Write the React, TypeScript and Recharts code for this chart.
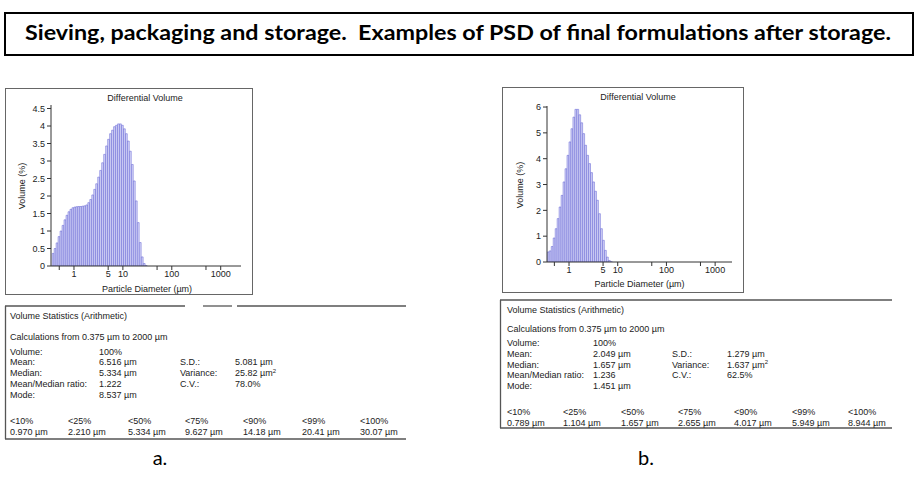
import React from 'react';
import { ComposedChart, Bar, XAxis, YAxis } from 'recharts';

// LS channel diameters (µm), lower edge of each channel
const channelSizes = [
  0.375, 0.412, 0.452, 0.496, 0.545, 0.598, 0.656, 0.721, 0.791, 0.868,
  0.953, 1.047, 1.149, 1.261, 1.385, 1.52, 1.669, 1.832, 2.011, 2.208,
  2.424, 2.661, 2.921, 3.207, 3.521, 3.865, 4.243, 4.658, 5.114, 5.614,
  6.163, 6.766, 7.428, 8.155, 8.953, 9.829, 10.79, 11.85, 13.01, 14.28,
  15.68, 17.21, 18.89, 20.74, 22.77, 25.0, 27.44, 30.13,
];

// differential volume (%)
const volumeA = [
  0.36, 0.5, 0.66, 0.84, 1.0, 1.16, 1.32, 1.45, 1.55, 1.62,
  1.665, 1.685, 1.695, 1.7, 1.7, 1.71, 1.72, 1.745, 1.81, 1.9,
  2.03, 2.19, 2.35, 2.54, 2.73, 2.95, 3.19, 3.43, 3.62, 3.78,
  3.88, 3.98, 4.02, 4.06, 4.06, 4.02, 3.92, 3.78, 3.57, 3.28,
  2.9, 2.43, 1.86, 1.24, 0.67, 0.26, 0.07, 0.01,
];
const volumeB = [
  0.39, 0.43, 0.6, 0.93, 1.29, 1.68, 2.13, 2.58, 3.1, 3.61,
  4.13, 4.65, 5.16, 5.61, 5.91, 5.91, 5.7, 5.39, 4.97, 4.52,
  4.13, 3.81, 3.46, 3.1, 2.74, 2.39, 1.87, 1.29, 0.84, 0.45,
  0.19, 0.06, 0.01,
];

const yTicksA = [0, 0.5, 1, 1.5, 2, 2.5, 3, 3.5, 4, 4.5];
const yTicksB = [0, 1, 2, 3, 4, 5, 6];
const xTicks = [0.5, 1, 5, 10, 50, 100, 500, 1000];
const xTickLabels = [1, 5, 10, 100, 1000];

const statLabels = ['Volume:', 'Mean:', 'Median:', 'Mean/Median ratio:', 'Mode:'];
const statValuesA = ['100%', '6.516 µm', '5.334 µm', '1.222', '8.537 µm'];
const statValuesB = ['100%', '2.049 µm', '1.657 µm', '1.236', '1.451 µm'];
const spreadLabels = ['S.D.:', 'Variance:', 'C.V.:'];
const spreadValuesA = ['5.081 µm', '25.82 µm', '78.0%'];
const spreadValuesB = ['1.279 µm', '1.637 µm', '62.5%'];
const percentileLabels = ['<10%', '<25%', '<50%', '<75%', '<90%', '<99%', '<100%'];
const percentilesA = ['0.970 µm', '2.210 µm', '5.334 µm', '9.627 µm', '14.18 µm', '20.41 µm', '30.07 µm'];
const percentilesB = ['0.789 µm', '1.104 µm', '1.657 µm', '2.655 µm', '4.017 µm', '5.949 µm', '8.944 µm'];

const FONT = '"Liberation Sans", Arial, sans-serif';
const CAL = 'Lato, "Open Sans", sans-serif';
const AXIS = '#333';

function Histogram(props: {
  left: number; top: number; width: number; height: number;
  marginTop: number; marginRight: number; yWidth: number; xHeight: number;
  values: number[]; yMax: number; yTicks: number[]; xDomain: [number, number];
}) {
  const data = props.values.map((v, i) => ({ d: channelSizes[i], v }));
  const tick = { fontSize: 9, fill: '#222', fontFamily: FONT };
  return (
    <div style={{ position: 'absolute', left: props.left, top: props.top }}>
      <ComposedChart
        width={props.width}
        height={props.height}
        data={data}
        margin={{ top: props.marginTop, right: props.marginRight, left: 0, bottom: 0 }}
      >
        <XAxis
          xAxisId="main"
          dataKey="d"
          type="number"
          scale="log"
          domain={props.xDomain}
          allowDataOverflow
          ticks={xTicks}
          interval={0}
          tickSize={4}
          tickMargin={1}
          height={props.xHeight}
          tick={tick}
          tickFormatter={(v: number) => (xTickLabels.includes(v) ? String(v) : '')}
          axisLine={{ stroke: AXIS }}
          tickLine={{ stroke: AXIS }}
        />
        <XAxis
          xAxisId="top"
          dataKey="d"
          type="number"
          scale="log"
          domain={props.xDomain}
          allowDataOverflow
          orientation="top"
          height={0}
          tick={false}
          tickLine={false}
          axisLine={{ stroke: '#666' }}
        />
        <YAxis
          yAxisId="main"
          type="number"
          domain={[0, props.yMax]}
          allowDataOverflow
          ticks={props.yTicks}
          interval={0}
          tickSize={4}
          width={props.yWidth}
          tick={tick}
          axisLine={{ stroke: AXIS }}
          tickLine={{ stroke: AXIS }}
        />
        <YAxis
          yAxisId="right"
          orientation="right"
          type="number"
          domain={[0, props.yMax]}
          width={0}
          tick={false}
          tickLine={false}
          axisLine={{ stroke: '#666' }}
        />
        <Bar
          xAxisId="main"
          yAxisId="main"
          dataKey="v"
          barSize={2}
          fill="#d6d6f7"
          stroke="#5c5cd2"
          strokeWidth={0.5}
          isAnimationActive={false}
        />
      </ComposedChart>
    </div>
  );
}

function StatsText(props: {
  x: number[]; px: number[]; rows: number[]; values: string[];
  spread: string[]; pct: string[];
}) {
  const t = { fontSize: 9, fill: '#222', fontFamily: FONT };
  const [titleY, calcY, firstY, step, pctY, pctValY] = props.rows;
  return (
    <g>
      <text x={props.x[0]} y={titleY + 3} {...t}>Volume Statistics (Arithmetic)</text>
      <text x={props.x[0]} y={calcY + 3} {...t}>Calculations from 0.375 µm to 2000 µm</text>
      {statLabels.map((l, i) => (
        <g key={l}>
          <text x={props.x[0]} y={firstY + step * i + 3} {...t}>{l}</text>
          <text x={props.x[1]} y={firstY + step * i + 3} {...t}>{props.values[i]}</text>
        </g>
      ))}
      {spreadLabels.map((l, i) => (
        <g key={l}>
          <text x={props.x[2]} y={firstY + step * (i + 1) + 3} {...t}>{l}</text>
          <text x={props.x[3]} y={firstY + step * (i + 1) + 3} {...t}>
            {props.spread[i]}
            {i === 1 ? <tspan dy={-3.5} fontSize={6}>2</tspan> : null}
          </text>
        </g>
      ))}
      {percentileLabels.map((l, i) => (
        <g key={l}>
          <text x={props.px[i]} y={pctY + 3} {...t}>{l}</text>
          <text x={props.px[i]} y={pctValY + 3} {...t}>{props.pct[i]}</text>
        </g>
      ))}
    </g>
  );
}

export default function App() {
  const small = { fontSize: 9, fill: '#222', fontFamily: FONT };
  return (
    <div style={{ position: 'absolute', left: 0, top: 0, width: 918, height: 477, background: '#fff', overflow: 'hidden' }}>
      <Histogram
        left={5} top={88} width={248} height={207}
        marginTop={17} marginRight={12} yWidth={46} xHeight={29}
        values={volumeA} yMax={4.6} yTicks={yTicksA} xDomain={[0.339, 2600]}
      />
      <Histogram
        left={502} top={87} width={242} height={206}
        marginTop={19} marginRight={12} yWidth={45} xHeight={31}
        values={volumeB} yMax={6.04} yTicks={yTicksB} xDomain={[0.353, 2220]}
      />
      <svg width={918} height={477} style={{ position: 'absolute', left: 0, top: 0, pointerEvents: 'none' }}>
        <rect x={5} y={13} width={908} height={42} fill="none" stroke="#000" strokeWidth={2} />
        <text
          x={25} y={40} textLength={866} lengthAdjust="spacingAndGlyphs"
          fontSize={20} fontWeight="bold" fontFamily={CAL} fill="#000"
        >
          {'Sieving, packaging and storage.\u00A0 Examples of PSD of final formulations after storage.'}
        </text>

        {/* panel a */}
        <rect x={5.5} y={88.5} width={247} height={206} fill="none" stroke="#666" strokeWidth={1} />
        <text x={145} y={100.5} textAnchor="middle" {...small}>Differential Volume</text>
        <text x={147} y={291.5} textAnchor="middle" {...small}>Particle Diameter (µm)</text>
        <text x={24.5} y={186} textAnchor="middle" transform="rotate(-90 24.5 186)" {...small}>Volume (%)</text>

        <line x1={5} y1={306} x2={185} y2={306} stroke="#555" strokeWidth={1.3} />
        <line x1={203} y1={306} x2={232} y2={306} stroke="#555" strokeWidth={1.3} />
        <line x1={237} y1={306} x2={406} y2={306} stroke="#555" strokeWidth={1.3} />
        <line x1={5.5} y1={306} x2={5.5} y2={439} stroke="#555" strokeWidth={1.3} />
        <line x1={5} y1={439} x2={406} y2={439} stroke="#555" strokeWidth={1.3} />
        <StatsText
          x={[10, 99, 180, 235]} px={[10, 68, 128, 185, 243, 302, 360]}
          rows={[316, 337, 351.5, 10.75, 421, 432]}
          values={statValuesA} spread={spreadValuesA} pct={percentilesA}
        />

        {/* panel b */}
        <rect x={502.5} y={87.5} width={241} height={205} fill="none" stroke="#666" strokeWidth={1} />
        <text x={638} y={100} textAnchor="middle" {...small}>Differential Volume</text>
        <text x={639.5} y={286.5} textAnchor="middle" {...small}>Particle Diameter (µm)</text>
        <text x={523} y={185} textAnchor="middle" transform="rotate(-90 523 185)" {...small}>Volume (%)</text>

        <line x1={500} y1={300} x2={892} y2={300} stroke="#555" strokeWidth={1.3} />
        <line x1={500.5} y1={300} x2={500.5} y2={428} stroke="#555" strokeWidth={1.3} />
        <line x1={500} y1={428} x2={892} y2={428} stroke="#555" strokeWidth={1.3} />
        <StatsText
          x={[507, 593, 672, 727]} px={[507, 563, 621, 678, 734, 792, 848]}
          rows={[310, 329, 343.3, 10.6, 412, 423]}
          values={statValuesB} spread={spreadValuesB} pct={percentilesB}
        />

        <text x={160} y={465} textAnchor="middle" fontSize={20} fontFamily={CAL} fill="#000">a.</text>
        <text x={646} y={465} textAnchor="middle" fontSize={20} fontFamily={CAL} fill="#000">b.</text>
      </svg>
    </div>
  );
}
